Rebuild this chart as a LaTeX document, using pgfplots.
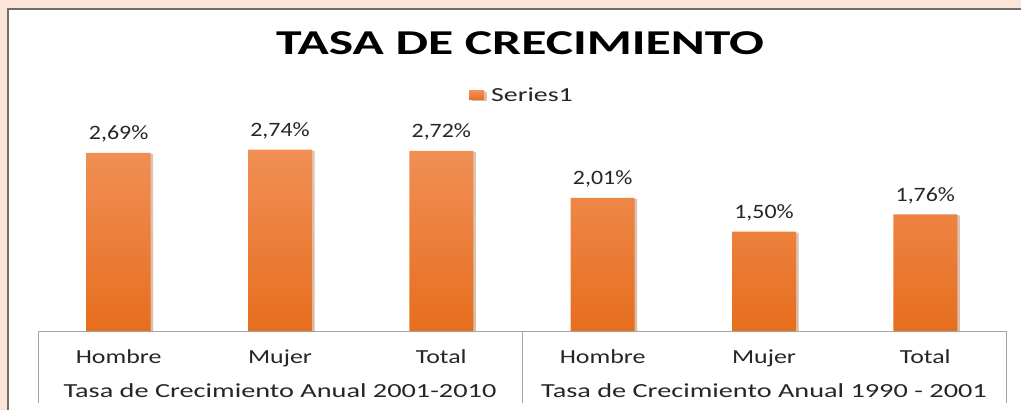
\documentclass[border=0pt]{standalone}
\usepackage{pgfplots}
\pgfplotsset{compat=1.18}
\usetikzlibrary{shadows}
\usepackage{fontspec}
\setmainfont{Carlito}
\newfontfamily\titlefont{Carlito}[FakeStretch=1.48]
\newfontfamily\tickfont{Carlito}[FakeStretch=1.30]
\newfontfamily\groupfont{Carlito}[FakeStretch=1.42]
\newfontfamily\legfont{Carlito}[FakeStretch=1.40]
\newfontfamily\valfont{Carlito}[FakeStretch=1.17]
\definecolor{peach}{RGB}{251,229,214}
\definecolor{barTop}{RGB}{241,143,86}
\definecolor{barBot}{RGB}{230,110,30}
\definecolor{barMid}{RGB}{237,125,49}
\definecolor{frameGray}{RGB}{110,110,110}
\definecolor{lineGray}{RGB}{165,165,165}
\begin{document}
\begin{tikzpicture}
\useasboundingbox (0bp,0bp) rectangle (1021bp,410bp);
\fill[peach] (0bp,0bp) rectangle (1021bp,410bp);
\fill[white] (8bp,0bp) rectangle (1021bp,401bp);
\draw[frameGray, line width=1.5bp] (8bp,-2bp) -- (8bp,401bp) -- (1025bp,401bp);
\node[font=\titlefont\bfseries\fontsize{35}{40}\selectfont, text=black, anchor=base] at (520bp,355bp) {TASA DE CRECIMIENTO};
\begin{axis}[
  at={(38bp,79bp)}, anchor=south west,
  scale only axis, width=968bp, height=198.6bp,
  xmin=-0.5, xmax=5.5, ymin=0, ymax=3,
  ybar, bar width=64bp,
  axis line style={draw=none},
  ytick=\empty,
  xtick=data,
  xticklabels={Hombre,Mujer,Total,Hombre,Mujer,Total},
  major tick length=0pt,
  xticklabel style={font=\tickfont\fontsize{20}{24}\selectfont, text=black!85, anchor=base, yshift=-32bp},
  xticklabel shift=0pt,
  clip=false,
  legend style={draw=none, fill=none, at={(0.5,1)}, anchor=center, yshift=37bp,
    font=\legfont\fontsize{20}{24}\selectfont, text=black!85},
  nodes near coords={\pgfmathprintnumber[fixed,fixed zerofill,precision=2,use comma,assume math mode=true]{\pgfplotspointmeta}\%},
  every node near coord/.append style={font=\valfont\fontsize{20.5}{24}\selectfont, text=black!85, anchor=base, yshift=13bp, inner sep=0pt},
]
\addplot[draw=none, top color=barTop, bottom color=barBot,
  drop shadow={shadow xshift=2.5bp, shadow yshift=-1bp, opacity=0.25, fill=black!60},
  legend image code/.code={\fill[barMid] (0bp,-4.5bp) rectangle (15bp,4.5bp); \path (20bp,0bp);}]
  coordinates {(0,2.69) (1,2.74) (2,2.72) (3,2.01) (4,1.50) (5,1.76)};
\addlegendentry{Series1}
\draw[lineGray, line width=1bp] (axis cs:-0.5,0) -- (axis cs:5.5,0);
\draw[lineGray, line width=1bp] (axis cs:-0.5,0) -- ++(0bp,-72bp);
\draw[lineGray, line width=1bp] (axis cs:2.5,0) -- ++(0bp,-72bp);
\draw[lineGray, line width=1bp] (axis cs:5.5,0) -- ++(0bp,-72bp);
\node[font=\groupfont\fontsize{20}{24}\selectfont, text=black!85, anchor=base] at ([yshift=-66bp]axis cs:1,0) {Tasa de Crecimiento Anual 2001-2010};
\node[font=\groupfont\fontsize{20}{24}\selectfont, text=black!85, anchor=base] at ([yshift=-66bp]axis cs:4,0) {Tasa de Crecimiento Anual 1990 - 2001};
\end{axis}
\end{tikzpicture}
\end{document}
